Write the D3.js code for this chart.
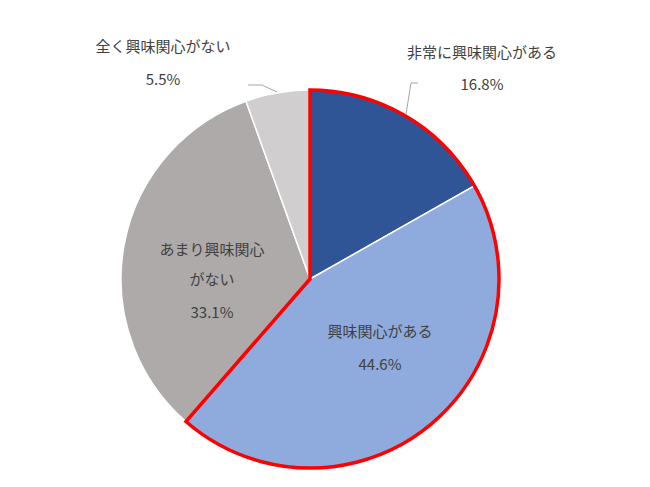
<!DOCTYPE html><html><head><meta charset="utf-8"><script src="https://cdn.jsdelivr.net/npm/d3@7"></script>
<style>body{margin:0;background:#fff}text{font-family:"Noto Sans CJK JP",sans-serif;fill:#404040;font-size:15px}</style></head><body>
<svg id="c" width="650" height="487"></svg>
<script>
const categories=["非常に興味関心がある","興味関心がある","あまり興味関心がない","全く興味関心がない"];
const values=[16.8,44.6,33.1,5.5];
const colors=["#2F5597","#8FAADC","#AEAAAA","#D0CECE"];
const svg=d3.select("#c"),cx=310,cy=279,r=189;
const g=svg.append("g").attr("transform",`translate(${cx},${cy})`);
const pie=d3.pie().sort(null)(values);
const arc=d3.arc().innerRadius(0).outerRadius(r);
g.selectAll("path.s").data(pie).join("path").attr("d",arc).attr("fill",(d,i)=>colors[i]).attr("stroke","#fff").attr("stroke-width",1.5);
g.append("path").attr("d",arc({startAngle:pie[0].startAngle,endAngle:pie[1].endAngle})).attr("fill","none").attr("stroke","#FF0000").attr("stroke-width",3.5).attr("stroke-linejoin","miter");
// leader lines
svg.append("polyline").attr("points","406,114 411,83 418,83").attr("fill","none").attr("stroke","#A6A6A6");
svg.append("polyline").attr("points","248,85 262,85 277,92").attr("fill","none").attr("stroke","#A6A6A6");
const labels=[
 {t:[categories[0],values[0].toFixed(1)+"%"],x:482,y:[58,90]},
 {t:[categories[1],values[1].toFixed(1)+"%"],x:380,y:[337,370]},
 {t:["あまり興味関心","がない",values[2].toFixed(1)+"%"],x:212,y:[255,285,318]},
 {t:[categories[3],values[3].toFixed(1)+"%"],x:163,y:[52,85]}];
labels.forEach(l=>l.t.forEach((s,i)=>svg.append("text").attr("x",l.x).attr("y",l.y[i]).attr("text-anchor","middle").text(s)));
</script></body></html>
